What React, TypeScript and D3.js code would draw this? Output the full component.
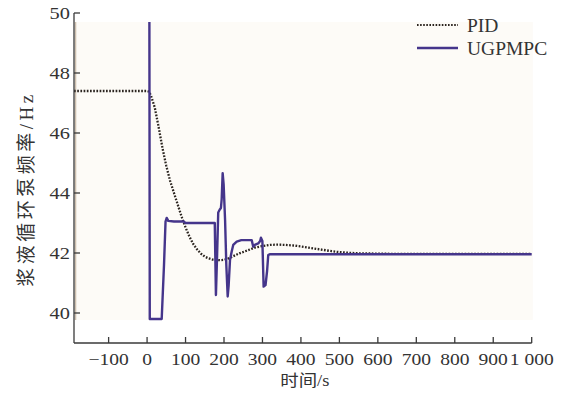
import React from "react";
import * as d3 from "d3";

// PID response (dotted)
const pidTime = [-190, 0, 5, 10, 20, 30, 40, 50, 60, 70, 80, 90, 100, 110, 120, 130, 140, 150, 160, 170, 180, 190, 200, 210, 220, 230, 240, 260, 280, 300, 320, 340, 360, 380, 400, 420, 440, 460, 480, 500, 520, 550, 600, 650, 700, 800, 900, 1000];
const pidValue = [47.4, 47.4, 47.38, 47.25, 46.85, 46.2, 45.5, 44.9, 44.4, 44.0, 43.6, 43.2, 42.85, 42.55, 42.3, 42.12, 41.98, 41.88, 41.82, 41.78, 41.77, 41.76, 41.77, 41.81, 41.87, 41.93, 41.99, 42.08, 42.18, 42.23, 42.27, 42.28, 42.27, 42.25, 42.22, 42.18, 42.14, 42.1, 42.06, 42.03, 42.01, 41.99, 41.98, 41.97, 41.97, 41.97, 41.97, 41.97];

// UGPMPC response (solid)
const ugpTime = [6, 7, 38, 44, 48, 51, 55, 70, 95, 100, 176, 177.5, 179, 182, 185, 189, 192, 194, 196.5, 199, 202.8, 206, 209.6, 212, 215.6, 220, 224, 233, 245, 254, 272, 276, 280, 289, 294, 296, 299.8, 303, 308, 312, 315, 319, 1000];
const ugpValue = [49.7, 39.8, 39.8, 41.6, 43.05, 43.17, 43.07, 43.05, 43.05, 43.0, 43.0, 41.8, 40.6, 41.9, 43.35, 43.45, 43.5, 43.8, 44.66, 44.3, 43.1, 41.6, 40.55, 40.9, 41.77, 42.05, 42.27, 42.38, 42.43, 42.43, 42.43, 42.21, 42.27, 42.32, 42.4, 42.51, 42.4, 40.88, 40.93, 41.4, 41.93, 41.96, 41.96];

const xTicks = [-100, 0, 100, 200, 300, 400, 500, 600, 700, 800, 900, 1000];
const xTickLabels = ["−100", "0", "100", "200", "300", "400", "500", "600", "700", "800", "900", "1 000"];
const yTicks = [40, 42, 44, 46, 48, 50];
const yTickLabels = ["40", "42", "44", "46", "48", "50"];

const seriesNames = ["PID", "UGPMPC"];

const W = 569;
const H = 403;
const serif = "'Liberation Serif', 'Times New Roman', serif";
const cjk = "'Liberation Serif', 'Noto Sans CJK SC', serif";
const axisColor = "#3a3a3a";
const textColor = "#333";
const purple = "#45358b";
const dotColor = "#2b241f";

export default function App() {
  const x = d3.scaleLinear().domain([-190, 1000]).range([74, 531.7]);
  const y = d3.scaleLinear().domain([39, 50]).range([343, 13]);

  const line = d3
    .line<[number, number]>()
    .x((d) => x(d[0]))
    .y((d) => y(d[1]));

  const pidData = pidTime.map((t, i) => [t, pidValue[i]] as [number, number]);
  const ugpData = ugpTime.map((t, i) => [t, ugpValue[i]] as [number, number]);

  const [x0, x1] = x.domain();
  const [y0, y1] = y.domain();

  return (
    <svg
      width={W}
      height={H}
      style={{ position: "absolute", left: 0, top: 0, background: "#fff" }}
    >
      {/* plot background */}
      <rect
        x={x(-185)}
        y={y(49.7)}
        width={x(1003) - x(-185)}
        height={y(39.77) - y(49.7)}
        fill="#fdfbf7"
      />
      <line x1={x(-186)} x2={x(-186)} y1={y(49.7)} y2={y(39.77)} stroke="#cdbfae" strokeWidth={1.5} />

      {/* series */}
      <path d={line(pidData) || ""} fill="none" stroke={dotColor} strokeWidth={2.3} strokeDasharray="1.7,1.5" />
      <path d={line(ugpData) || ""} fill="none" stroke={purple} strokeWidth={2.4} strokeLinejoin="round" />

      {/* y axis */}
      <line x1={x(x0)} x2={x(x0)} y1={y(y0)} y2={y(y1)} stroke={axisColor} strokeWidth={1.3} />
      {yTicks.map((v, i) => (
        <g key={"y" + v}>
          <line x1={x(x0)} x2={x(x0) + 6} y1={y(v)} y2={y(v)} stroke={axisColor} strokeWidth={1.3} />
          <text
            transform={`translate(${x(x0) - 4},${y(v) + 6}) scale(1.2,1)`}
            textAnchor="end"
            fontFamily={serif}
            fontSize={17}
            fill={textColor}
          >
            {yTickLabels[i]}
          </text>
        </g>
      ))}

      {/* x axis */}
      <line x1={x(x0)} x2={x(x1)} y1={y(y0)} y2={y(y0)} stroke={axisColor} strokeWidth={1.3} />
      {xTicks.map((t, i) => (
        <g key={"x" + t}>
          <line x1={x(t)} x2={x(t)} y1={y(y0)} y2={y(y0) - 6} stroke={axisColor} strokeWidth={1.3} />
          <text
            transform={`translate(${x(t)},${y(y0) + 22}) scale(1.15,1)`}
            textAnchor="middle"
            fontFamily={serif}
            fontSize={17}
            fill={textColor}
          >
            {xTickLabels[i]}
          </text>
        </g>
      ))}

      {/* axis titles */}
      <text
        transform={`translate(${(x(x0) + x(x1)) / 2 + 2},386) scale(1.15,1)`}
        textAnchor="middle"
        fontFamily={cjk}
        fontSize={16}
        fill={textColor}
      >
        时间/s
      </text>
      <text
        transform="translate(33,189) rotate(-90)"
        textAnchor="middle"
        fontFamily={cjk}
        fontSize={19}
        letterSpacing={3.5}
        fill={textColor}
      >
        浆液循环泵频率/Hz
      </text>

      {/* legend */}
      <line x1={417} x2={458} y1={25} y2={25} stroke={dotColor} strokeWidth={2.1} strokeDasharray="1.6,1.5" />
      <text x={467} y={31.5} fontFamily={serif} fontSize={19.5} fill={textColor}>
        {seriesNames[0]}
      </text>
      <line x1={417} x2={458} y1={48} y2={48} stroke={purple} strokeWidth={2.4} />
      <text x={467} y={55} fontFamily={serif} fontSize={19.5} fill={textColor}>
        {seriesNames[1]}
      </text>
    </svg>
  );
}
